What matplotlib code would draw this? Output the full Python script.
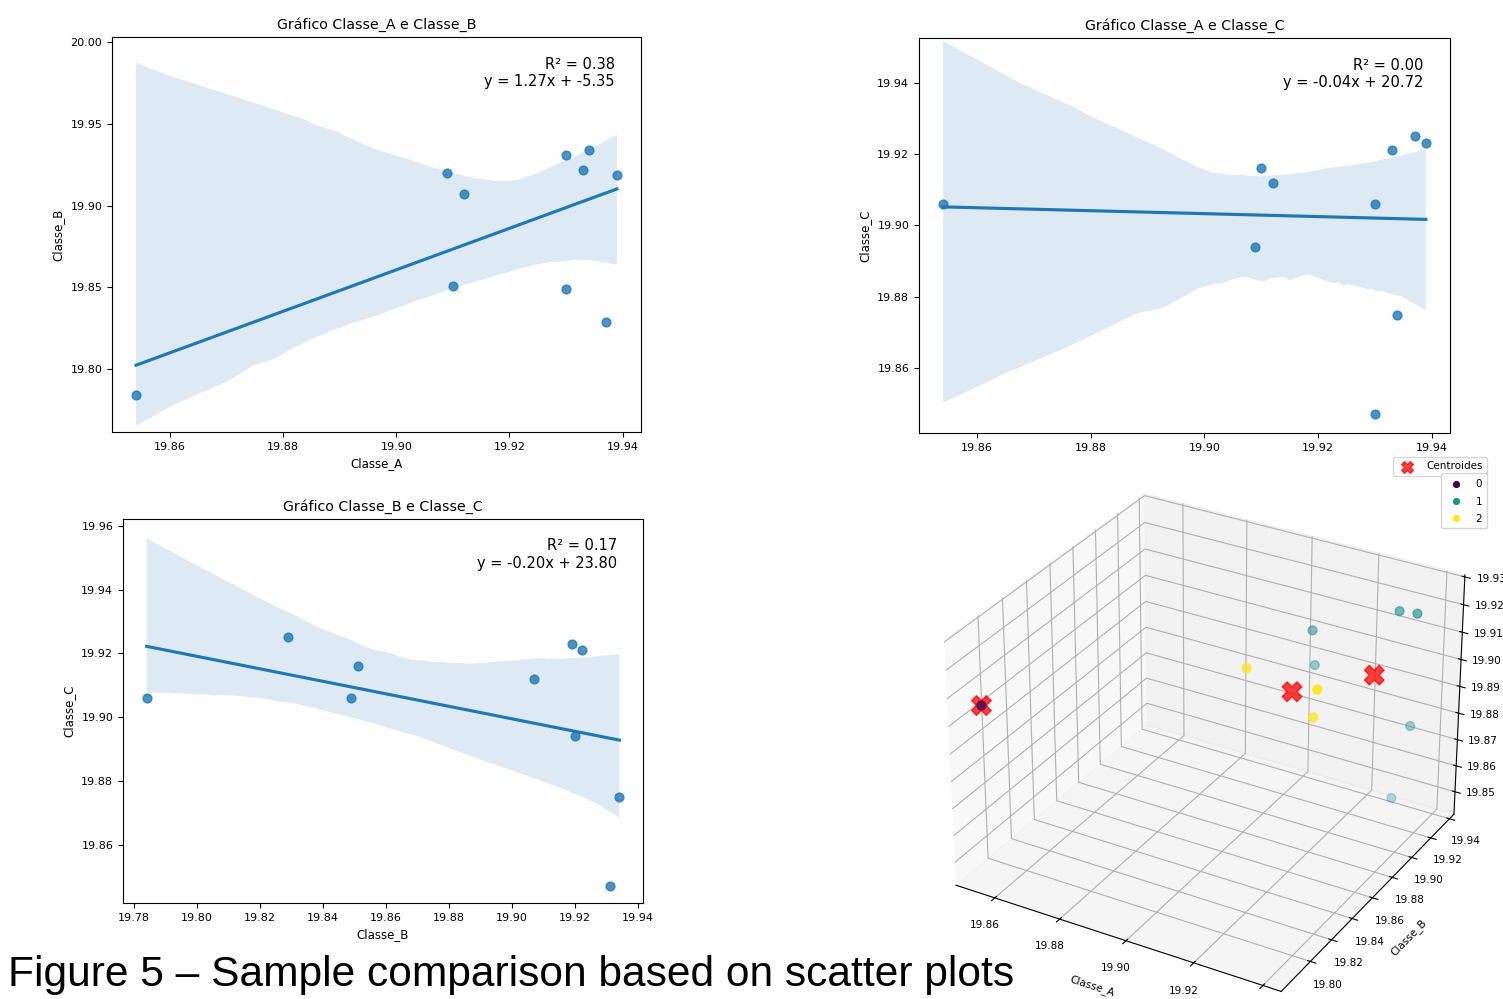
import numpy as np
import matplotlib
matplotlib.use("Agg")
import matplotlib.pyplot as plt
import seaborn as sns

# values
classe_a = [19.854, 19.909, 19.910, 19.912, 19.930, 19.930, 19.933, 19.934, 19.937, 19.939]
classe_b = [19.784, 19.920, 19.851, 19.907, 19.931, 19.849, 19.922, 19.934, 19.829, 19.919]
classe_c = [19.906, 19.894, 19.916, 19.912, 19.847, 19.906, 19.921, 19.875, 19.925, 19.923]
cluster = [0, 1, 2, 1, 1, 2, 1, 1, 2, 1]

pairs = [("Classe_A", "Classe_B"), ("Classe_A", "Classe_C"), ("Classe_B", "Classe_C")]
annotations = [
    "R\u00b2 = 0.38\ny = 1.27x + -5.35",
    "R\u00b2 = 0.00\ny = -0.04x + 20.72",
    "R\u00b2 = 0.17\ny = -0.20x + 23.80",
]
y_limits = [(19.7617, 20.003), (19.8418, 19.9525), (19.8418, 19.9621)]
boot_seeds = [3, 0, 3]
caption = "Figure 5 \u2013 Sample comparison based on scatter plots"

data = {"Classe_A": classe_a, "Classe_B": classe_b, "Classe_C": classe_c}

plt.rcParams["font.family"] = "DejaVu Sans"
fig = plt.figure(figsize=(15.03, 9.99), dpi=100)

W, H = 1503, 999


def px_axes(left, top, right, bottom, **kw):
    return fig.add_axes([left / W, 1 - bottom / H, (right - left) / W, (bottom - top) / H], **kw)


# 3D cluster plot first, so the 2D panels draw on top of its empty margins
ax3 = fig.add_axes([0.5773, -0.029, 0.4445, 0.5796], projection="3d")
ax3.set_facecolor("none")
xs = np.array(classe_a)
ys = np.array(classe_b)
zs = np.array(classe_c)
lab = np.array(cluster)
sc = ax3.scatter(xs, ys, zs, c=lab, cmap="viridis", s=40)
cx = [xs[lab == k].mean() for k in range(3)]
cy = [ys[lab == k].mean() for k in range(3)]
cz = [zs[lab == k].mean() for k in range(3)]
cen = ax3.scatter(cx, cy, cz, c="red", marker="X", s=200, alpha=0.75, label="Centroides")
ax3.set_xlabel("Classe_A", fontsize=7.5)
ax3.set_ylabel("Classe_B", fontsize=7.5)
ax3.set_zlabel("Classe_C", fontsize=7.5)
ax3.tick_params(labelsize=7.5)
ax3.set_yticks([19.80, 19.82, 19.84, 19.86, 19.88, 19.90, 19.92, 19.94])
ax3.set_zticks([19.85, 19.86, 19.87, 19.88, 19.89, 19.90, 19.91, 19.92, 19.93])

boxes = [(112, 37, 641, 432), (919, 38, 1450, 433), (123, 519, 643, 903)]

for i, ((xn, yn), box, note) in enumerate(zip(pairs, boxes, annotations)):
    ax = px_axes(*box)
    sns.regplot(x=np.array(data[xn]), y=np.array(data[yn]), ax=ax, seed=boot_seeds[i],
                color="#1f77b4", scatter_kws={"s": 40})
    ax.set_ylim(*y_limits[i])
    ax.set_title(f"Gr\u00e1fico {xn} e {yn}", fontsize=10.2)
    if i != 1:
        ax.set_xlabel(xn, fontsize=8.5)
    ax.set_ylabel(yn, fontsize=8.5)
    ax.tick_params(labelsize=8)
    ax.text(0.95, 0.95, note, transform=ax.transAxes, ha="right", va="top",
            fontsize=10.5, linespacing=1.2)

fig.legend(handles=[cen], loc="upper right", bbox_to_anchor=(1492 / W, 1 - 452 / H),
           fontsize=7.5, markerscale=0.6)
handles, labels = sc.legend_elements()
fig.legend(handles, labels, loc="upper right", bbox_to_anchor=(1492 / W, 1 - 468 / H),
           fontsize=7.5, markerscale=0.7)

fig.text(8 / W, 1 - 975 / H, caption, fontsize=30.6, family="Liberation Sans",
         va="center", ha="left")

fig.savefig("out.png", dpi=100)
